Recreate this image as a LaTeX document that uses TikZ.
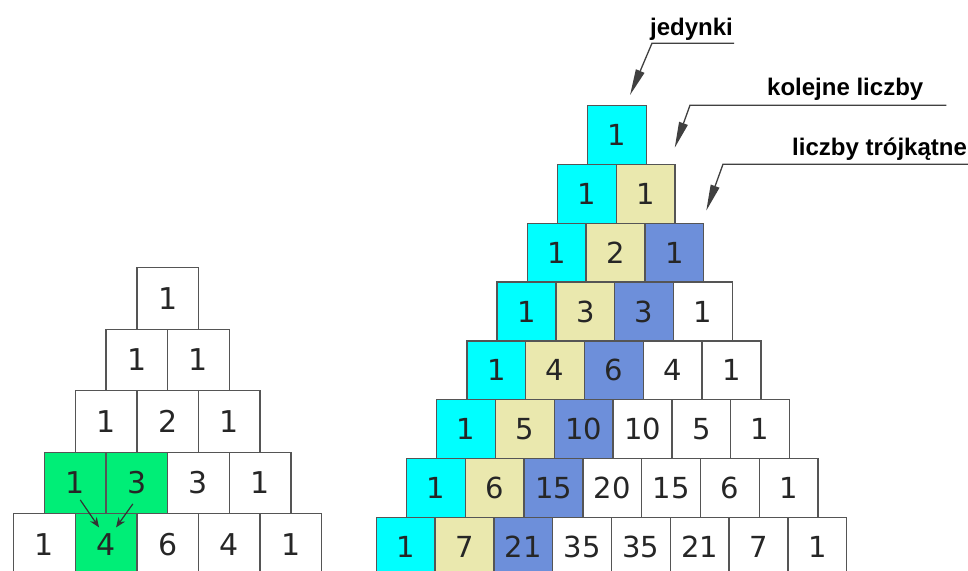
\documentclass[tikz,border=0pt]{standalone}
\usepackage{fontspec}
\newfontfamily\cellfont{DejaVu Sans}
\newfontfamily\notefont{Liberation Sans}
\usetikzlibrary{arrows.meta, calc}
\definecolor{onescyan}{HTML}{00FFFF}
\definecolor{natbeige}{HTML}{EAE8AE}
\definecolor{triblue}{HTML}{6D8FDA}
\definecolor{sumgreen}{HTML}{00EE77}
\definecolor{cellline}{HTML}{555555}

\begin{document}
\begin{tikzpicture}[x=1pt, y=-1pt,
        cell/.style = {draw=cellline, line width=1.3pt, anchor=north west, inner sep=0pt, text=black!85},
        lcell/.style = {cell, minimum width=61.6pt, minimum height=61.5pt, font=\cellfont\fontsize{30}{30}\selectfont},
        rcell/.style = {cell, minimum width=58.8pt, minimum height=58.8pt, font=\cellfont\fontsize{29}{29}\selectfont},
        note/.style = {anchor=base west, inner sep=0pt, font=\notefont\bfseries\fontsize{24}{24}\selectfont},
        callout/.style = {draw=black!75, line width=1.3pt, -{Triangle[length=26pt, width=9pt]}},
        sumarrow/.style = {draw=black!80, line width=1.2pt, -{Stealth[length=10pt, width=8pt]}}]

    \useasboundingbox (0,0) rectangle (968,570);
    \fill[white] (0,0) rectangle (968,570);
    \clip (0,0) rectangle (968,570);

    % small triangle: 1+3 gives 4
    \foreach \vals [count=\i from 0] in {{1},{1,1},{1,2,1},{1,3,3,1},{1,4,6,4,1}} {
        \foreach \v [count=\j from 0] in \vals {
            \def\cellfill{white}
            \ifnum\i=3 \ifnum\j<2 \def\cellfill{sumgreen}\fi\fi
            \ifnum\i=4 \ifnum\j=1 \def\cellfill{sumgreen}\fi\fi
            \node[lcell, fill=\cellfill] (l\i\j) at ({13+(4-\i)*30.8+\j*61.6}, {267+\i*61.5}) {\v};
        }
    }
    \draw[sumarrow] ($(l30.center)+(5,17)$) -- ($(l41.center)+(-7,-17)$);
    \draw[sumarrow] ($(l31.center)+(-4,21)$) -- ($(l41.center)+(10,-17)$);

    % big triangle with coloured diagonals
    \foreach \vals [count=\i from 0] in {{1},{1,1},{1,2,1},{1,3,3,1},{1,4,6,4,1},{1,5,10,10,5,1},{1,6,15,20,15,6,1},{1,7,21,35,35,21,7,1}} {
        \foreach \v [count=\j from 0] in \vals {
            \ifcase\j \def\cellfill{onescyan}\or \def\cellfill{natbeige}\or \def\cellfill{triblue}\else \def\cellfill{white}\fi
            \node[rcell, fill=\cellfill] (r\i\j) at ({587-\i*30.2+\j*58.8}, {105+\i*58.8}) {\v};
        }
    }

    % labels
    \node[note] (jed) at (650,35) {jedynki};
    \node[note] (kol) at (767,95) {kolejne liczby};
    \node[note] (troj) at (792,155) {liczby trójkątne};

    \coordinate (jedTip) at ($(r00.north)+(13,-10)$);
    \coordinate (kolTip) at ($(r11.north east)+(-1,-16)$);
    \coordinate (trojTip) at ($(r22.north east)+(2,-12)$);

    \draw[callout] ($(jed.south east)+(1,3)$) -- ($(jed.south west)+(2,3)$) -- (jedTip);
    \draw[callout] ($(kol.south east)+(23,5)$) -- ($(kol.south west)+(-77,5)$) -- (kolTip);
    \draw[callout] ($(troj.south east)+(10,4)$) -- ($(troj.south west)+(-69,4)$) -- (trojTip);
\end{tikzpicture}
\end{document}
